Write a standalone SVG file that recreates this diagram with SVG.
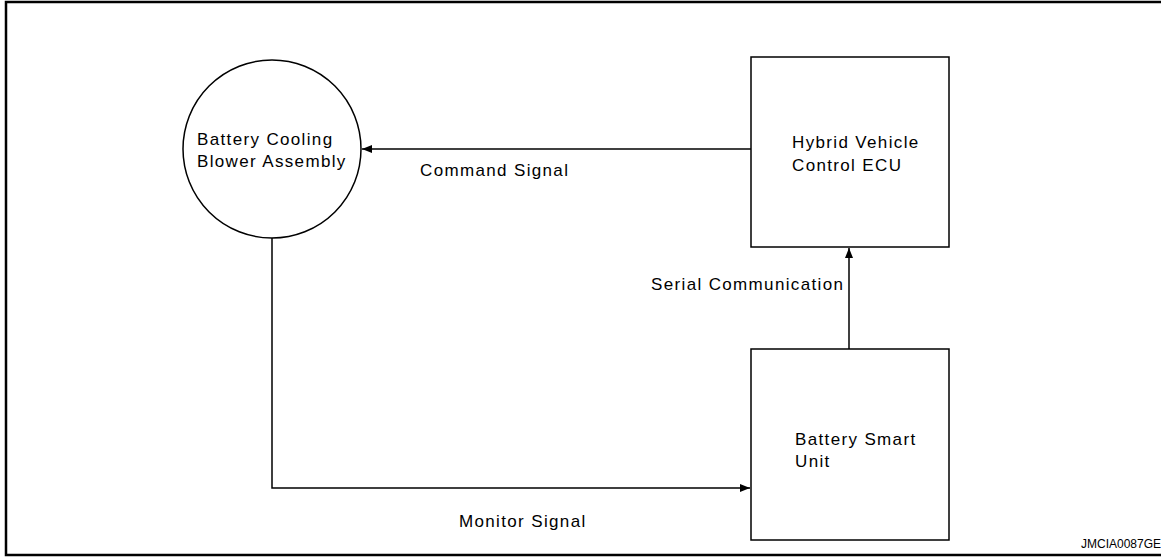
<svg xmlns="http://www.w3.org/2000/svg" width="1161" height="557" viewBox="0 0 1161 557">
<style>
.n{fill:#fff;stroke:#000;stroke-width:1.5}
.c{fill:none;stroke:#000;stroke-width:1.5}
text{font-family:"Liberation Sans",Arial,sans-serif;font-size:17px;letter-spacing:1.35px;fill:#000}
.id{font-size:12px;letter-spacing:0}
</style>
<defs>
<marker id="ah" viewBox="0 0 10 8" refX="10" refY="4" markerWidth="10" markerHeight="8" markerUnits="userSpaceOnUse" orient="auto">
<path d="M0,0 L10,4 L0,8 z" fill="#000"/>
</marker>
</defs>
<rect x="6" y="2" width="1170" height="553" fill="#fff" stroke="#000" stroke-width="2.5"/>
<g id="connectors">
<line class="c" x1="751" y1="149" x2="362" y2="149" marker-end="url(#ah)"/>
<line class="c" x1="849" y1="349" x2="849" y2="248" marker-end="url(#ah)"/>
<polyline class="c" points="272,238 272,488 750,488" marker-end="url(#ah)"/>
<text x="420" y="176">Command Signal</text>
<text x="651" y="290">Serial Communication</text>
<text x="459" y="527">Monitor Signal</text>
</g>
<g id="blower">
<circle class="n" cx="272" cy="149" r="89"/>
<text x="197" y="145">Battery Cooling</text>
<text x="197" y="167">Blower Assembly</text>
</g>
<g id="hvecu">
<rect class="n" x="751" y="57" width="198" height="190"/>
<text x="792" y="148">Hybrid Vehicle</text>
<text x="792" y="171">Control ECU</text>
</g>
<g id="bsu">
<rect class="n" x="751" y="349" width="198" height="191"/>
<text x="795" y="445">Battery Smart</text>
<text x="795" y="467">Unit</text>
</g>
<text class="id" x="1081" y="548">JMCIA0087GE</text>
</svg>
